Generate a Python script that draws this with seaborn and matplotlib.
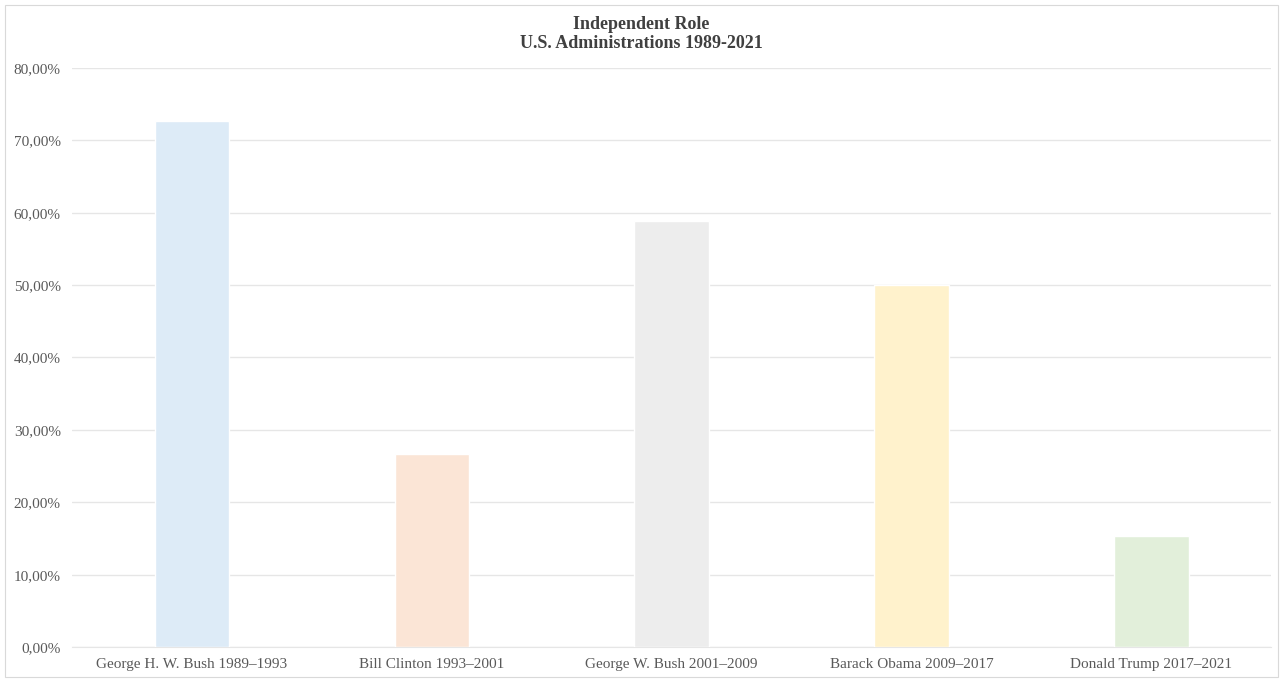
import pandas as pd
import matplotlib.pyplot as plt
import seaborn as sns
from matplotlib.ticker import FuncFormatter

# data
administrations = ['George H. W. Bush 1989–1993', 'Bill Clinton 1993–2001',
                   'George W. Bush 2001–2009', 'Barack Obama 2009–2017',
                   'Donald Trump 2017–2021']
independent_share = [0.7273, 0.2667, 0.5882, 0.5000, 0.1538]
bar_colors = ['#DDEBF7', '#FBE5D6', '#EDEDED', '#FFF2CC', '#E2EFDA']

df = pd.DataFrame({'Administration': administrations, 'Share': independent_share})

sns.set_style('white')
plt.rcParams['font.family'] = ['Liberation Serif', 'DejaVu Serif']

fig = plt.figure(figsize=(12.83, 6.79), dpi=100)
ax = fig.add_axes([0.056, 0.047, 0.935, 0.853])

sns.barplot(data=df, x='Administration', y='Share', hue='Administration',
            palette=bar_colors, saturation=1, width=0.31, legend=False, ax=ax, zorder=3)

ax.set_ylim(0, 0.8)
ax.set_yticks([i / 10 for i in range(9)])
ax.yaxis.set_major_formatter(FuncFormatter(lambda v, p: f'{v * 100:.2f}%'.replace('.', ',')))
ax.grid(axis='y', color='#E6E6E6', linewidth=1.0, zorder=0)
ax.set_axisbelow(True)
for s in ['top', 'right', 'left']:
    ax.spines[s].set_visible(False)
ax.spines['bottom'].set_color('#E6E6E6')
ax.tick_params(axis='both', length=0, labelsize=11, labelcolor='#595959', pad=8)
ax.set_xlabel('')
ax.set_ylabel('')
ax.set_xlim(-0.5, 4.5)

fig.text(0.5, 0.977, 'Independent Role\nU.S. Administrations 1989-2021',
         ha='center', va='top', fontsize=13, fontweight='bold', color='#404040',
         linespacing=1.2)

# thin outer frame
fig.patches.append(plt.Rectangle((0.004, 0.003), 0.992, 0.99, transform=fig.transFigure,
                                 fill=False, edgecolor='#D9D9D9', linewidth=0.8))

fig.savefig('out.png', dpi=100)
